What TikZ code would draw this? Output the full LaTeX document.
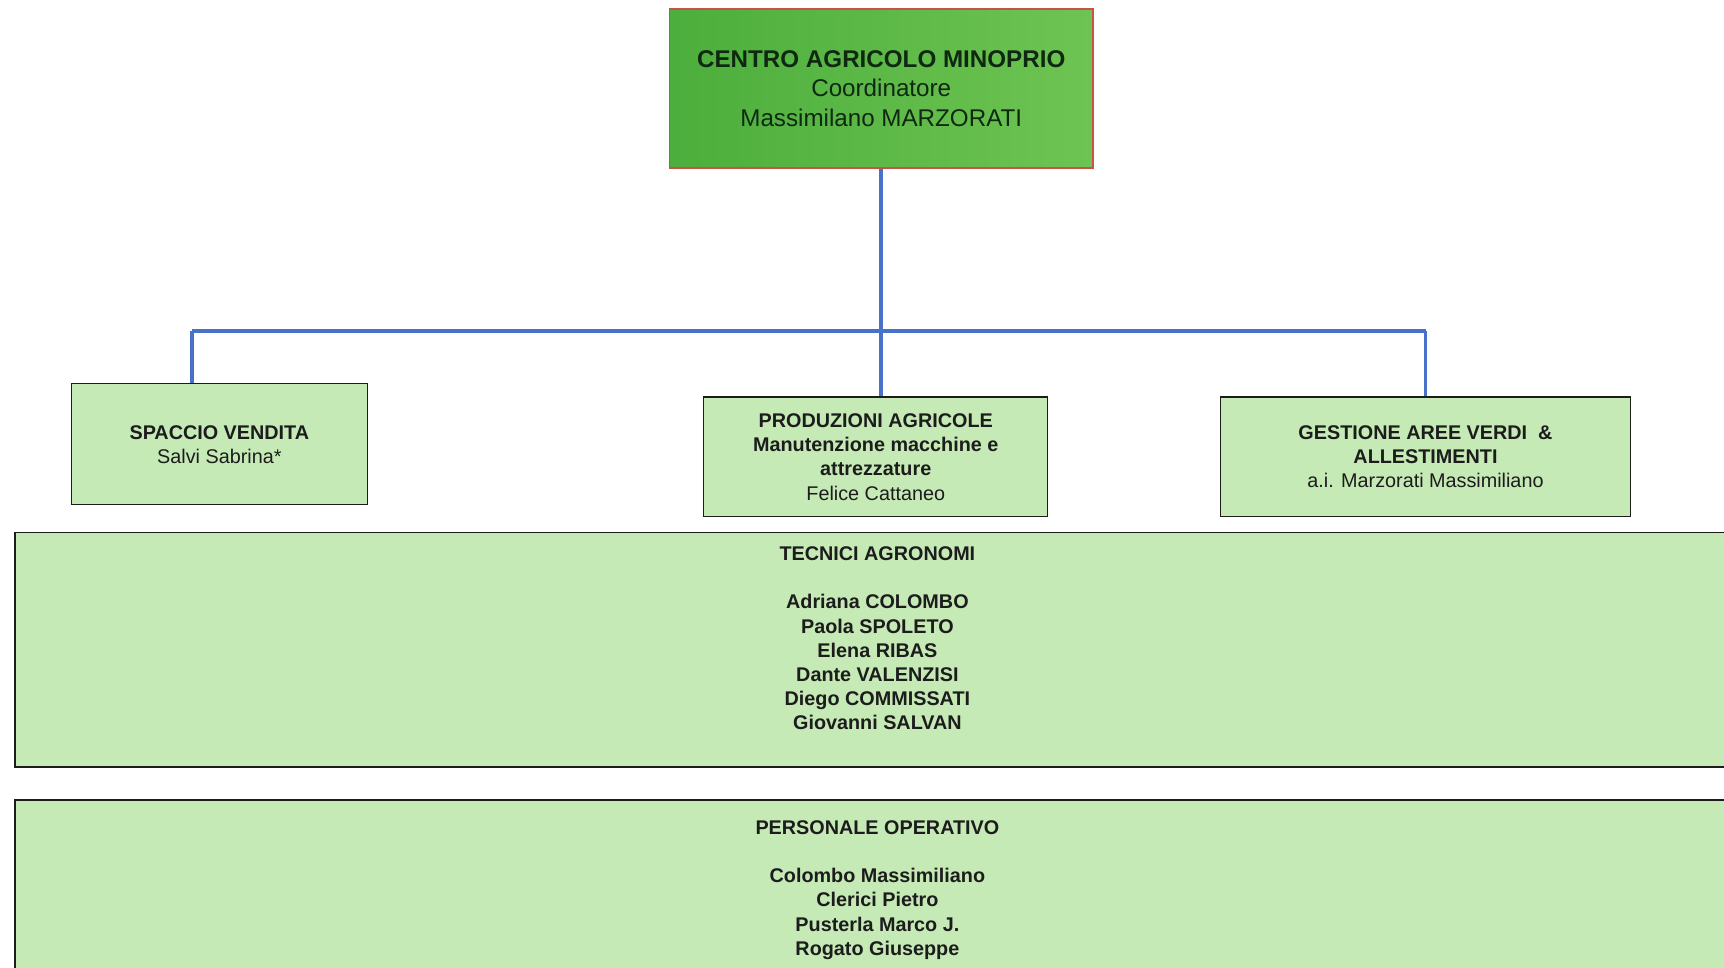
\documentclass[tikz,border=0pt]{standalone}
\usepackage{fontspec}
\setmainfont{Liberation Sans}
\definecolor{boxgreen}{RGB}{197,234,182}
\definecolor{linkblue}{RGB}{72,114,200}
\definecolor{topdark}{RGB}{76,174,60}
\definecolor{toplight}{RGB}{110,196,82}
\definecolor{topborder}{RGB}{200,82,72}
\definecolor{ink}{RGB}{28,28,28}
\definecolor{topink}{RGB}{14,40,18}
\begin{document}
\begin{tikzpicture}[x=1pt,y=-1pt,
  box/.style={draw=ink, line width=1.2pt, fill=boxgreen, text=ink, align=center, inner sep=0pt,
    text depth=0pt, font=\fontsize{18}{22}\selectfont},
  bigbox/.style={draw=ink, line width=1.2pt, fill=boxgreen, inner sep=0pt},
  listtext/.style={text=ink, align=center, inner sep=0pt, font=\fontsize{18}{22}\selectfont\bfseries},
  topbox/.style={draw=topborder, line width=1.5pt, left color=topdark, right color=toplight,
    text=topink, align=center, inner sep=0pt, text depth=0pt, font=\fontsize{22}{26.5}\selectfont},
  link/.style={draw=linkblue, line width=3.6pt}]
\useasboundingbox (0,0) rectangle (1568,880);
\fill[white] (0,0) rectangle (1568,880);
\begin{scope}
\clip (0,0) rectangle (1568,880);
% top box
\node[topbox, minimum width=385, minimum height=145] (top) at (801.5,80.5)
  {\textbf{CENTRO AGRICOLO MINOPRIO}\\Coordinatore\\Massimilano MARZORATI};
% second level
\node[box, minimum width=269, minimum height=110] (spaccio) at (199.5,404)
  {\textbf{SPACCIO VENDITA}\\Salvi Sabrina*};
\node[box, minimum width=313, minimum height=109] (prod) at (796.5,415.5)
  {\textbf{PRODUZIONI AGRICOLE}\\\textbf{Manutenzione macchine e}\\\textbf{attrezzature}\\Felice Cattaneo};
\node[box, minimum width=373, minimum height=109] (gest) at (1296.5,415.5)
  {\textbf{GESTIONE AREE VERDI\ \ \&}\\\textbf{ALLESTIMENTI}\\a.i. Marzorati Massimiliano};
% connectors
\coordinate (hl) at (175,301);
\coordinate (hr) at (1296.5,301);
\draw[link] (top.south) -- (top.south |- prod.north);
\draw[link] (hl) -- (hr);
\draw[link] (spaccio.north -| hl) -- (hl);
\draw[link] (hr) -- (gest.north);
% big boxes
\node[bigbox, minimum width=1580, minimum height=213, anchor=north west] (tecnici) at (13,484) {};
\node[listtext, anchor=north] (tecT) at (798,497)
  {TECNICI AGRONOMI\\[22pt]Adriana COLOMBO\\Paola SPOLETO\\Elena RIBAS\\Dante VALENZISI\\Diego COMMISSATI\\Giovanni SALVAN};
\node[bigbox, minimum width=1580, minimum height=200, anchor=north west] (pers) at (13,727) {};
\node[listtext, anchor=north] (persT) at (798,746)
  {PERSONALE OPERATIVO\\[22pt]Colombo Massimiliano\\Clerici Pietro\\Pusterla Marco J.\\Rogato Giuseppe};
\end{scope}
\end{tikzpicture}
\end{document}
